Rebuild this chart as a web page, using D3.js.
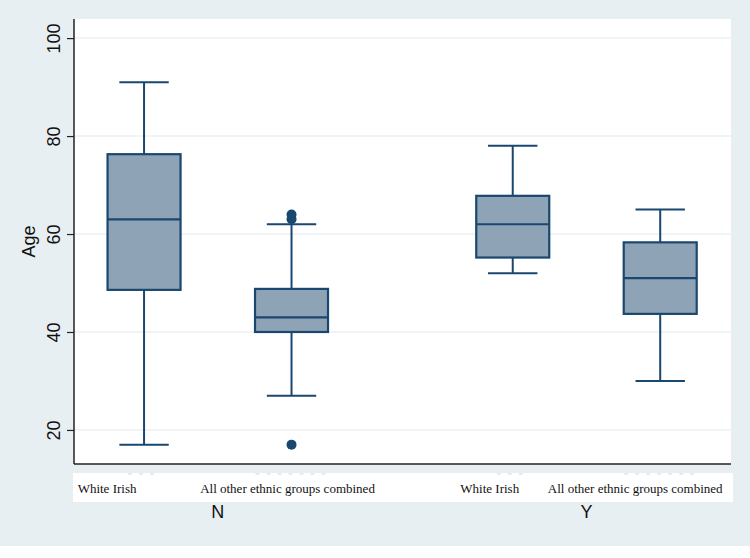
<!DOCTYPE html>
<html>
<head>
<meta charset="utf-8">
<script src="https://cdn.jsdelivr.net/npm/d3@7"></script>
<style>
  html, body { margin: 0; padding: 0; background: #fff; }
  svg { display: block; }
</style>
</head>
<body>
<div id="chart"></div>
<script>
// --- Data ---
const groups = ["N", "Y"];
const ethnicities = ["White Irish", "All other ethnic groups combined"];
// one entry per box, in group order then ethnicity order
const whiskerLow = [17, 27, 52, 30];
const q1 = [48.6, 40, 55.2, 43.7];
const medians = [63, 43, 62, 51];
const q3 = [76.3, 48.8, 67.8, 58.3];
const whiskerHigh = [91, 62, 78, 65];
const outliers = [[], [64, 63, 17], [], []];
const yTicks = [20, 40, 60, 80, 100];

// --- Dimensions ---
const width = 750;
const height = 558;
const plot = { left: 74, right: 731, top: 19, bottom: 464 };

const navy = "#1a476f";
const bg = "#e8eff2";

const svg = d3.select("#chart").append("svg")
  .attr("width", width)
  .attr("height", height);

// outer background (white strip at very bottom)
svg.append("rect").attr("width", width).attr("height", 546).attr("fill", bg);
svg.append("rect")
  .attr("x", plot.left).attr("y", plot.top)
  .attr("width", plot.right - plot.left).attr("height", plot.bottom - plot.top)
  .attr("fill", "#fff");

// --- Scales ---
const y = d3.scaleLinear().domain([13.05, 103.9]).range([plot.bottom, plot.top]);
// slot position: groups separated by an extra half slot
const slot = (g, i) => g * 2.5 + i;
const x = d3.scaleLinear().domain([-0.475, 3.98]).range([plot.left, plot.right]);
const boxW = x(0.495) - x(0);
const capW = x(0.335) - x(0);

// --- Gridlines ---
svg.append("g")
  .selectAll("line")
  .data(yTicks)
  .join("line")
  .attr("x1", plot.left).attr("x2", plot.right)
  .attr("y1", d => y(d)).attr("y2", d => y(d))
  .attr("stroke", "#eaf1f3")
  .attr("stroke-width", 1.5);

// --- Y axis ---
const yAxis = svg.append("g")
  .attr("transform", `translate(${plot.left},0)`)
  .call(d3.axisLeft(y).tickValues(yTicks).tickSize(7).tickSizeOuter(0).tickPadding(0));
yAxis.select(".domain").attr("stroke", "#222").attr("stroke-width", 1.5)
  .attr("d", `M0,${plot.top}V${plot.bottom}`);
yAxis.selectAll(".tick line").attr("stroke", "#222").attr("stroke-width", 1.2);
yAxis.selectAll(".tick text")
  .attr("font-family", "Liberation Sans, Arial, sans-serif")
  .attr("font-size", 18)
  .attr("fill", "#111")
  .attr("text-anchor", "middle")
  .attr("dy", 0)
  .attr("x", 0)
  .attr("transform", "translate(-14,0) rotate(-90)");

svg.append("text")
  .attr("transform", `translate(35,${(plot.top + plot.bottom) / 2}) rotate(-90)`)
  .attr("text-anchor", "middle")
  .attr("font-family", "Liberation Sans, Arial, sans-serif")
  .attr("font-size", 18)
  .attr("fill", "#111")
  .text("Age");

// bottom axis line
svg.append("line")
  .attr("x1", plot.left).attr("x2", plot.right)
  .attr("y1", plot.bottom).attr("y2", plot.bottom)
  .attr("stroke", "#222").attr("stroke-width", 1.5);

// --- Boxes ---
const boxes = [];
groups.forEach((g, gi) => {
  ethnicities.forEach((e, ei) => {
    const k = gi * ethnicities.length + ei;
    boxes.push({
      group: g, eth: e, pos: slot(gi, ei),
      lo: whiskerLow[k], q1: q1[k], med: medians[k], q3: q3[k], hi: whiskerHigh[k],
      out: outliers[k]
    });
  });
});

const bx = svg.append("g").selectAll("g").data(boxes).join("g");

// whiskers
bx.append("line")
  .attr("x1", d => x(d.pos)).attr("x2", d => x(d.pos))
  .attr("y1", d => y(d.hi)).attr("y2", d => y(d.q3))
  .attr("stroke", navy).attr("stroke-width", 2);
bx.append("line")
  .attr("x1", d => x(d.pos)).attr("x2", d => x(d.pos))
  .attr("y1", d => y(d.q1)).attr("y2", d => y(d.lo))
  .attr("stroke", navy).attr("stroke-width", 2);
// caps
bx.selectAll("line.cap")
  .data(d => [{ pos: d.pos, v: d.hi }, { pos: d.pos, v: d.lo }])
  .join("line")
  .attr("class", "cap")
  .attr("x1", d => x(d.pos) - capW / 2).attr("x2", d => x(d.pos) + capW / 2)
  .attr("y1", d => y(d.v)).attr("y2", d => y(d.v))
  .attr("stroke", navy).attr("stroke-width", 2);
// box
bx.append("rect")
  .attr("x", d => x(d.pos) - boxW / 2)
  .attr("width", boxW)
  .attr("y", d => y(d.q3))
  .attr("height", d => y(d.q1) - y(d.q3))
  .attr("fill", "#8fa3b7")
  .attr("stroke", navy).attr("stroke-width", 2.2);
// median
bx.append("line")
  .attr("x1", d => x(d.pos) - boxW / 2).attr("x2", d => x(d.pos) + boxW / 2)
  .attr("y1", d => y(d.med)).attr("y2", d => y(d.med))
  .attr("stroke", navy).attr("stroke-width", 2.2);
// outliers
bx.selectAll("circle")
  .data(d => d.out.map(v => ({ pos: d.pos, v })))
  .join("circle")
  .attr("cx", d => x(d.pos)).attr("cy", d => y(d.v))
  .attr("r", 5)
  .attr("fill", navy);

// --- Category labels band ---
svg.append("rect")
  .attr("x", plot.left - 1).attr("y", 473)
  .attr("width", plot.right - plot.left + 3).attr("height", 29)
  .attr("fill", "#fff");

// faint remnants of original tick labels
svg.append("g").selectAll("line")
  .data(boxes)
  .join("line")
  .attr("x1", (d, i) => x(d.pos) - (i % 2 ? 36 : 16))
  .attr("x2", (d, i) => x(d.pos) + (i % 2 ? 36 : 16))
  .attr("y1", 474).attr("y2", 474)
  .attr("stroke", "#e4e4e4").attr("stroke-width", 1.5)
  .attr("stroke-dasharray", "4,7");

// label nudges (px) relative to box centre, as placed in the original
const labelNudge = [-37, -4, -23, -25];
svg.append("g").selectAll("text")
  .data(boxes)
  .join("text")
  .attr("x", (d, i) => x(d.pos) + labelNudge[i])
  .attr("y", 493)
  .attr("text-anchor", "middle")
  .attr("font-family", "Liberation Serif, Times New Roman, serif")
  .attr("font-size", 13)
  .attr("fill", "#111")
  .text(d => d.eth);

// group labels
svg.append("g").selectAll("text")
  .data(groups)
  .join("text")
  .attr("x", (g, gi) => (x(slot(gi, 0)) + x(slot(gi, 1))) / 2)
  .attr("y", 518)
  .attr("text-anchor", "middle")
  .attr("font-family", "Liberation Sans, Arial, sans-serif")
  .attr("font-size", 18)
  .attr("fill", "#111")
  .text(d => d);
</script>
</body>
</html>
